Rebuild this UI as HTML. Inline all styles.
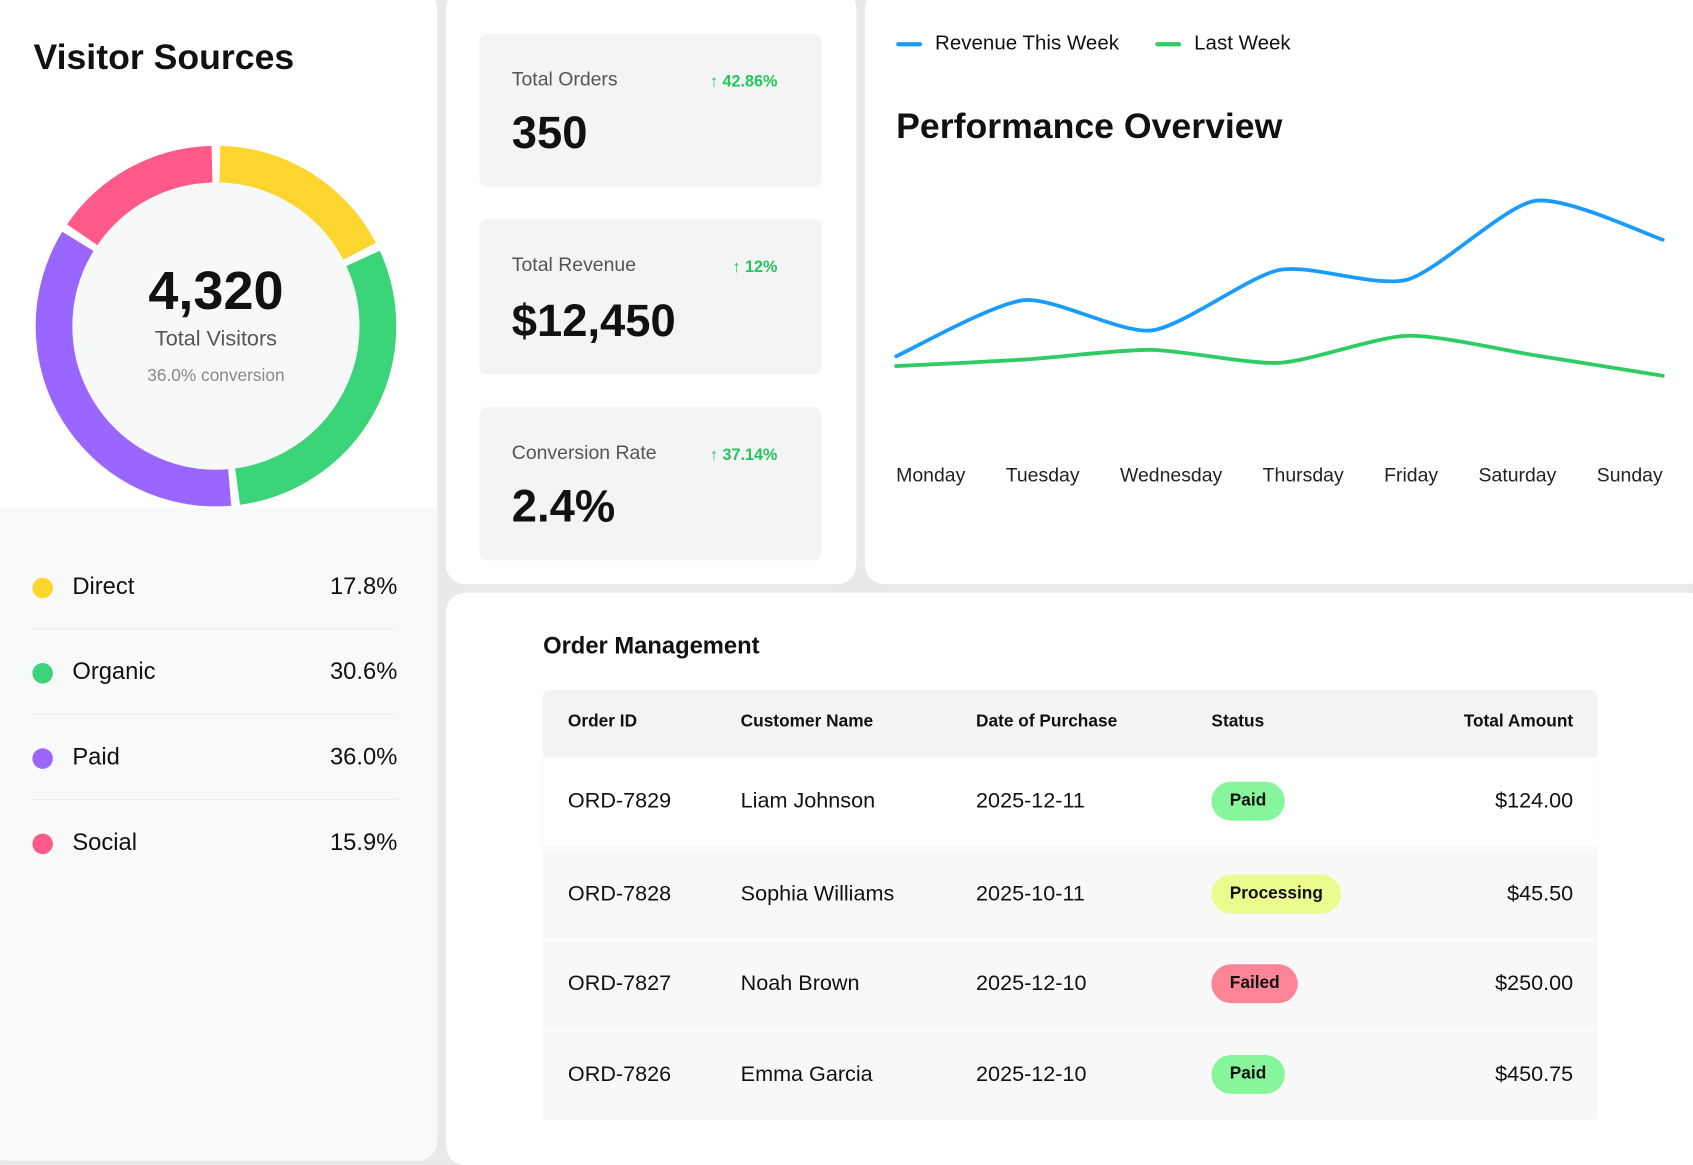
<!DOCTYPE html>
<html><head><meta charset="utf-8">
<style>
html,body{margin:0;padding:0;width:1693px;height:1150px;overflow:hidden;background:#e9e9e9;}
#wrap{position:absolute;left:0;top:0;width:1568px;height:1065px;transform:scale(1.0797,1.0798);transform-origin:0 0;font-family:"Liberation Sans",sans-serif;color:#111;}
.card{position:absolute;background:#fff;border-radius:18px;overflow:hidden;}
.abs{position:absolute;white-space:nowrap;}
.stat{position:absolute;left:444px;width:317px;height:142px;background:#f4f4f4;border-radius:8px;}
.stat .lbl{position:absolute;left:30px;top:32px;font-size:18px;color:#555;}
.stat .chg{position:absolute;right:41px;top:36px;font-size:15px;color:#22c55e;font-weight:bold;}
.stat .val{position:absolute;left:30px;top:68px;font-size:42px;font-weight:bold;}
.leg{position:absolute;left:30px;width:338px;height:78px;}
.leg .dot{position:absolute;left:0;top:30px;width:19px;height:19px;border-radius:50%;}
.leg .name{position:absolute;left:37px;top:25px;font-size:22px;}
.leg .pct{position:absolute;right:0;top:25px;font-size:22px;}
.row{position:absolute;left:503px;width:976px;height:82px;}
.row div{position:absolute;top:29px;font-size:20px;white-space:nowrap;}
.badge{top:22px!important;height:36px;line-height:36px;padding:0 17px;border-radius:18px;font-size:16px!important;font-weight:bold;}
</style></head><body>
<div id="wrap">
  <!-- Visitor sources card -->
  <div class="card" style="left:-10px;top:-10px;width:415px;height:1085px;background:#f8f9f9">
    <div style="position:absolute;left:0;top:0;width:415px;height:480px;background:#fff"></div>
  </div>
  <div class="abs" style="left:31px;top:34px;font-size:33px;font-weight:bold">Visitor Sources</div>
  <svg class="abs" style="left:0;top:100px" width="405" height="380">
    <circle cx="200" cy="202" r="133" fill="#f7f8f8"></circle>
    <g id="donut"></g>
  </svg>
  <div class="abs" style="left:0;width:400px;text-align:center;top:240px;font-size:50px;font-weight:bold">4,320</div>
  <div class="abs" style="left:0;width:400px;text-align:center;top:303px;font-size:20px;color:#555">Total Visitors</div>
  <div class="abs" style="left:0;width:400px;text-align:center;top:340px;font-size:16px;color:#888">36.0% conversion</div>
  <div id="legend"></div>

  <!-- Stats card -->
  <div class="card" style="left:413px;top:-10px;width:380px;height:551px"></div>
  <div class="stat" style="top:31px"><div class="lbl">Total Orders</div><div class="chg">↑ 42.86%</div><div class="val">350</div></div>
  <div class="stat" style="top:203px;height:144px"><div class="lbl">Total Revenue</div><div class="chg">↑ 12%</div><div class="val" style="top:70px">$12,450</div></div>
  <div class="stat" style="top:377px"><div class="lbl">Conversion Rate</div><div class="chg">↑ 37.14%</div><div class="val">2.4%</div></div>

  <!-- Performance card -->
  <div class="card" style="left:801px;top:-10px;width:780px;height:551px"></div>
  <div class="abs" style="left:830px;top:30px;font-size:19px"><span style="display:inline-block;width:24px;height:4px;border-radius:2px;background:#1a9cff;vertical-align:middle;margin-right:12px"></span>Revenue This Week</div>
  <div class="abs" style="left:1070px;top:30px;font-size:19px"><span style="display:inline-block;width:24px;height:4px;border-radius:2px;background:#2ecc63;vertical-align:middle;margin-right:12px"></span>Last Week</div>
  <div class="abs" style="left:830px;top:98px;font-size:33px;font-weight:bold">Performance Overview</div>
  <svg class="abs" style="left:801px;top:150px" width="767" height="260"><g id="lines"></g></svg>
  <div id="days" class="abs" style="left:830px;top:430px;width:710px;display:flex;justify-content:space-between;font-size:18px;color:#222"></div>

  <!-- Orders card -->
  <div class="card" style="left:413px;top:549px;width:1170px;height:530px"></div>
  <div class="abs" style="left:503px;top:585px;font-size:22px;font-weight:bold">Order Management</div>
  <div class="abs" style="left:503px;top:639px;width:976px;height:396px;background:#f8f8f8;border-radius:6px;box-shadow:0 1px 2px rgba(0,0,0,0.06)"></div>
  <div class="row" style="top:639px;height:62px;background:#f3f3f3;border-radius:6px 6px 0 0">
    <div style="left:23px;top:21px;font-size:16px;font-weight:bold">Order ID</div>
    <div style="left:183px;top:21px;font-size:16px;font-weight:bold">Customer Name</div>
    <div style="left:401px;top:21px;font-size:16px;font-weight:bold">Date of Purchase</div>
    <div style="left:619px;top:21px;font-size:16px;font-weight:bold">Status</div>
    <div style="right:22px;top:21px;font-size:16px;font-weight:bold">Total Amount</div>
  </div>
  <div id="rows"></div>
</div>
<script>
// Donut data
const sources = ['Direct','Organic','Paid','Social'];
const sourcePct = [17.8, 30.6, 36.0, 15.9];
const sourceColors = ['#fdd52f','#3bd479','#9966ff','#ff5a8a'];
// Line chart data
const days = ['Monday','Tuesday','Wednesday','Thursday','Friday','Saturday','Sunday'];
const revenueThisWeek = [700, 1220, 940, 1500, 1410, 2140, 1780];
const revenueLastWeek = [610, 670, 760, 640, 890, 710, 520];
// Orders data
const orderIds = ['ORD-7829','ORD-7828','ORD-7827','ORD-7826'];
const customers = ['Liam Johnson','Sophia Williams','Noah Brown','Emma Garcia'];
const dates = ['2025-12-11','2025-10-11','2025-12-10','2025-12-10'];
const statuses = ['Paid','Processing','Failed','Paid'];
const amounts = ['$124.00','$45.50','$250.00','$450.75'];

const NS='http://www.w3.org/2000/svg';
// donut
(function(){
  const g=document.getElementById('donut');
  const cx=200,cy=202,r=150,total=sourcePct.reduce((a,b)=>a+b,0);
  let a0=0;
  sourcePct.forEach((v,i)=>{
    const span=v/total*360;
    const s=(a0+1.4)*Math.PI/180, e=(a0+span-1.4)*Math.PI/180;
    const x1=cx+r*Math.sin(s),y1=cy-r*Math.cos(s),x2=cx+r*Math.sin(e),y2=cy-r*Math.cos(e);
    const p=document.createElementNS(NS,'path');
    p.setAttribute('d',`M${x1} ${y1} A${r} ${r} 0 ${span>180?1:0} 1 ${x2} ${y2}`);
    p.setAttribute('fill','none');p.setAttribute('stroke',sourceColors[i]);p.setAttribute('stroke-width','34');
    
    
    g.appendChild(p);
    a0+=span;
  });
  const L=document.getElementById('legend');
  sources.forEach((s,i)=>{
    const d=document.createElement('div');d.className='leg';d.style.top=(505+i*79)+'px';
    
    
    d.innerHTML=`<div class="dot" style="background:${sourceColors[i]}"></div><div class="name">${s}</div><div class="pct">${sourcePct[i].toFixed(1)}%</div>`+(i<3?'<div style="position:absolute;left:0;right:0;bottom:0;height:1px;background:#eeeeee"></div>':'');
    L.appendChild(d);
  });
})();
// line chart
(function(){
  const g=document.getElementById('lines');
  const x0=29,x1=739;
  const xs=i=>x0+(x1-x0)*i/(days.length-1);
  const ys=v=>250-v*0.1;
  function path(vals){
    const pts=vals.map((v,i)=>[xs(i),ys(v)]);
    let d=`M${pts[0][0]} ${pts[0][1]}`;
    for(let i=0;i<pts.length-1;i++){
      const p0=pts[Math.max(0,i-1)],p1=pts[i],p2=pts[i+1],p3=pts[Math.min(pts.length-1,i+2)];
      const t=0.12;
      d+=` C${p1[0]+(p2[0]-p0[0])*t} ${p1[1]+(p2[1]-p0[1])*t} ${p2[0]-(p3[0]-p1[0])*t} ${p2[1]-(p3[1]-p1[1])*t} ${p2[0]} ${p2[1]}`;
    }
    return d;
  }
  [[revenueLastWeek,'#2ecc63','series-last-week'],[revenueThisWeek,'#1a9cff','series-revenue-this-week']].forEach(([vals,c,n])=>{
    const p=document.createElementNS(NS,'path');
    p.setAttribute('d',path(vals));p.setAttribute('fill','none');p.setAttribute('stroke',c);
    p.setAttribute('stroke-width','3.5');p.setAttribute('stroke-linecap','round');p.setAttribute('stroke-linejoin','round');
    
    
    g.appendChild(p);
  });
  const D=document.getElementById('days');
  days.forEach(dn=>{
    const s=document.createElement('span');s.textContent=dn;
    
    
    D.appendChild(s);
  });
})();
// rows
(function(){
  const R=document.getElementById('rows');
  const badge={Paid:'#86f59c',Processing:'#ecfb90',Failed:'#fb8497'};
  orderIds.forEach((id,i)=>{
    const r=document.createElement('div');r.className='row';r.style.top=(702+i*83.5)+'px';
    r.style.background=i===0?'#ffffff':'#f8f8f8';
    if(i>0) r.style.borderTop='2px solid #fdfdfd';
    
    
    r.innerHTML=`<div style="left:23px">${id}</div><div style="left:183px">${customers[i]}</div><div style="left:401px">${dates[i]}</div><div class="badge" style="left:619px;background:${badge[statuses[i]]}">${statuses[i]}</div><div style="right:22px">${amounts[i]}</div>`;
    R.appendChild(r);
  });
})();
</script>
</body></html>
